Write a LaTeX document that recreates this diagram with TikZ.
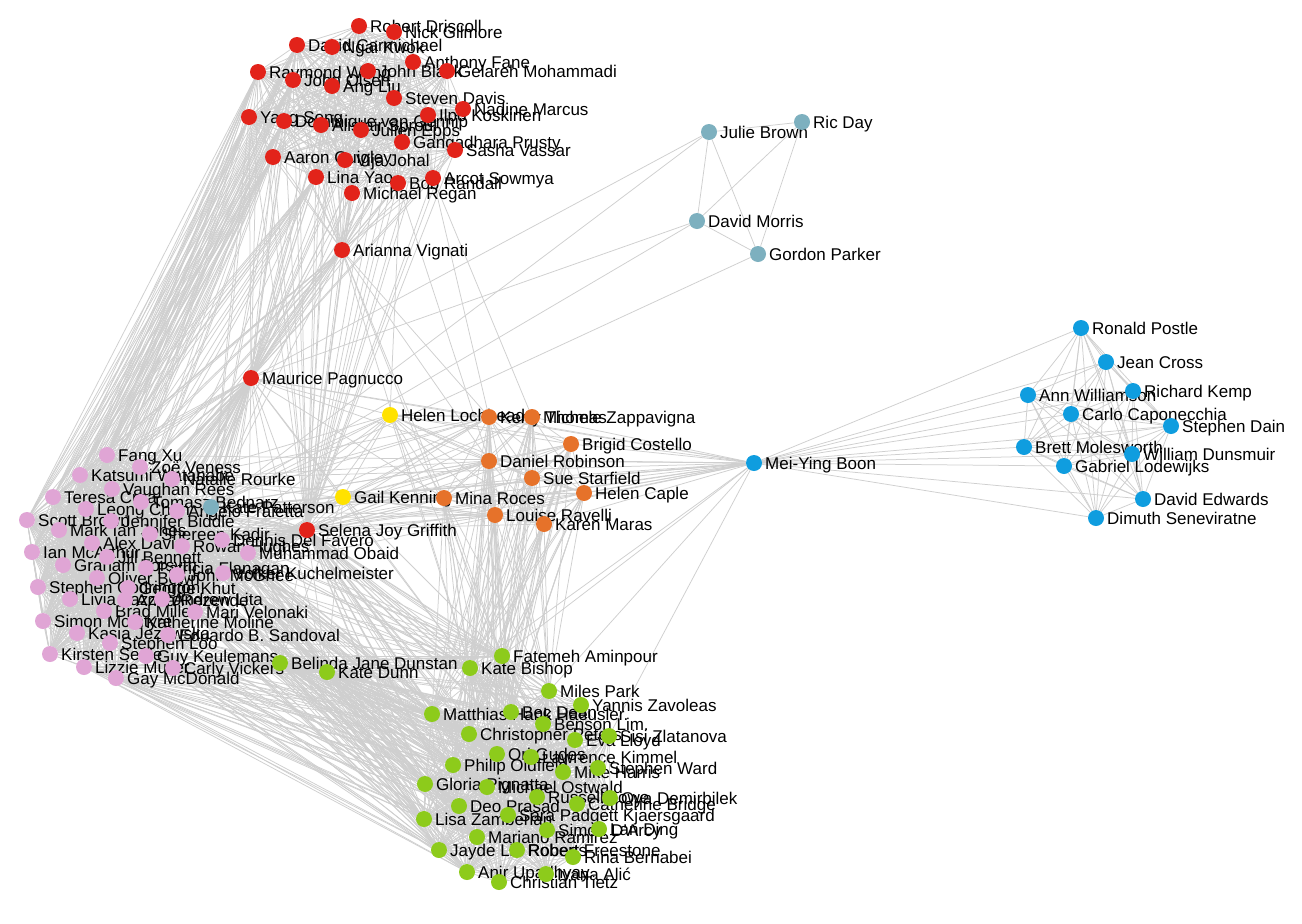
\documentclass[tikz,border=0pt]{standalone}
\usepackage{fontspec}
\setmainfont{Liberation Sans}
\pgfdeclarelayer{bgfill}
\pgfdeclarelayer{edges}
\pgfdeclarelayer{labels}
\pgfsetlayers{bgfill,edges,labels,main}
\definecolor{cred}{HTML}{E2231A}
\definecolor{cpink}{HTML}{E0A5D5}
\definecolor{cgreen}{HTML}{8DCB1B}
\definecolor{corange}{HTML}{E6722A}
\definecolor{cblue}{HTML}{0F9DDF}
\definecolor{cteal}{HTML}{7DB0BF}
\definecolor{cyellow}{HTML}{FFE200}
\definecolor{cedge}{HTML}{CFCFCF}
\tikzset{
 dot/.style={circle,inner sep=0pt,minimum size=16pt,draw=none},
 lbl/.style={anchor=base west,inner sep=0pt,font=\fontsize{17}{17}\selectfont,text=black},
 edge/.style={draw=cedge,line width=0.75pt}
}
\newcommand\pn[5]{%
 \node[dot,fill=#4] (#1) at (#2,#3) {};
 \begin{pgfonlayer}{labels}\node[lbl] (#1l) at (#2+11,#3+6) {#5};\end{pgfonlayer}}
\begin{document}
\begin{tikzpicture}[x=1pt,y=-1pt]
\begin{pgfonlayer}{bgfill}
\fill[white] (0,0) rectangle (1302,924);
\end{pgfonlayer}
\useasboundingbox (0,0) rectangle (1302,924);
% red
\pn{r1}{359}{26}{cred}{Robert Driscoll}
\pn{r2}{394}{32}{cred}{Nick Gilmore}
\pn{r3}{297}{45}{cred}{David Carmichael}
\pn{r4}{332}{47}{cred}{Ngai Kwok}
\pn{r5}{413}{62}{cred}{Anthony Fane}
\pn{r6}{258}{72}{cred}{Raymond Wong}
\pn{r7}{368}{71}{cred}{John Black}
\pn{r8}{447}{71}{cred}{Gelareh Mohammadi}
\pn{r9}{293}{80}{cred}{John Olsen}
\pn{r10}{332}{86}{cred}{Ang Liu}
\pn{r11}{394}{98}{cred}{Steven Davis}
\pn{r12}{463}{109}{cred}{Nadine Marcus}
\pn{r13}{428}{115}{cred}{Ilpo Koskinen}
\pn{r14}{249}{117}{cred}{Yang Song}
\pn{r15}{284}{121}{cred}{Dominique van Gennip}
\pn{r16}{321}{125}{cred}{Alistair Sproul}
\pn{r17}{361}{130}{cred}{Julien Epps}
\pn{r18}{402}{142}{cred}{Gangadhara Prusty}
\pn{r19}{455}{150}{cred}{Sasha Vassar}
\pn{r20}{273}{157}{cred}{Aaron Quigley}
\pn{r21}{345}{160}{cred}{Vija Johal}
\pn{r22}{316}{177}{cred}{Lina Yao}
\pn{r23}{398}{183}{cred}{Bob Randall}
\pn{r24}{433}{178}{cred}{Arcot Sowmya}
\pn{r25}{352}{193}{cred}{Michael Regan}
\pn{r26}{342}{250}{cred}{Arianna Vignati}
\pn{mp}{251}{378}{cred}{Maurice Pagnucco}
\pn{sg}{307}{530}{cred}{Selena Joy Griffith}
% teal
\pn{t1}{709}{132}{cteal}{Julie Brown}
\pn{t2}{802}{122}{cteal}{Ric Day}
\pn{t3}{697}{221}{cteal}{David Morris}
\pn{t4}{758}{254}{cteal}{Gordon Parker}
% yellow / orange
\pn{hl}{390}{415}{cyellow}{Helen Lochhead}
\pn{gk}{343}{497}{cyellow}{Gail Kenning}
\pn{o1}{489}{417}{corange}{Kerry Thomas}
\pn{o2}{532}{417}{corange}{Michele Zappavigna}
\pn{o3}{571}{444}{corange}{Brigid Costello}
\pn{o4}{489}{461}{corange}{Daniel Robinson}
\pn{o5}{532}{478}{corange}{Sue Starfield}
\pn{o6}{584}{493}{corange}{Helen Caple}
\pn{o7}{444}{498}{corange}{Mina Roces}
\pn{o8}{495}{515}{corange}{Louise Ravelli}
\pn{o9}{544}{524}{corange}{Karen Maras}
% blue
\pn{mb}{754}{463}{cblue}{Mei-Ying Boon}
\pn{b1}{1081}{328}{cblue}{Ronald Postle}
\pn{b2}{1106}{362}{cblue}{Jean Cross}
\pn{b3}{1133}{391}{cblue}{Richard Kemp}
\pn{b4}{1028}{395}{cblue}{Ann Williamson}
\pn{b5}{1071}{414}{cblue}{Carlo Caponecchia}
\pn{b6}{1171}{426}{cblue}{Stephen Dain}
\pn{b7}{1024}{447}{cblue}{Brett Molesworth}
\pn{b8}{1132}{454}{cblue}{William Dunsmuir}
\pn{b9}{1064}{466}{cblue}{Gabriel Lodewijks}
\pn{b10}{1143}{499}{cblue}{David Edwards}
\pn{b11}{1096}{518}{cblue}{Dimuth Seneviratne}
% pink
\pn{p1}{107}{455}{cpink}{Fang Xu}
\pn{p2}{140}{467}{cpink}{Zoë Veness}
\pn{p3}{80}{475}{cpink}{Katsumi Watanabe}
\pn{p4}{172}{479}{cpink}{Natalie Rourke}
\pn{p5}{112}{489}{cpink}{Vaughan Rees}
\pn{p6}{53}{497}{cpink}{Teresa Crea}
\pn{p7}{141}{502}{cpink}{Tomasz Bednarz}
\pn{p8}{86}{509}{cpink}{Leong Chan}
\pn{p9}{177}{511}{cpink}{Angelo Fraietta}
\pn{kp}{211}{507}{cteal}{Kate Patterson}
\pn{p10}{27}{520}{cpink}{Scott Brown}
\pn{p11}{111}{521}{cpink}{Jennifer Biddle}
\pn{p12}{59}{530}{cpink}{Mark Ian Jones}
\pn{p13}{150}{534}{cpink}{Shereen Kadir}
\pn{p14}{222}{540}{cpink}{Dennis Del Favero}
\pn{p15}{92}{543}{cpink}{Alex Davis}
\pn{p16}{182}{546}{cpink}{Rowan Hughes}
\pn{p17}{248}{553}{cpink}{Muhammad Obaid}
\pn{p18}{32}{552}{cpink}{Ian McArthur}
\pn{p19}{107}{557}{cpink}{Jill Bennett}
\pn{p20}{63}{565}{cpink}{Graham Forsyth}
\pn{p21}{146}{568}{cpink}{Patricia Flanagan}
\pn{p22}{223}{573}{cpink}{Volker Kuchelmeister}
\pn{p23}{97}{578}{cpink}{Oliver Bown}
\pn{p24}{177}{575}{cpink}{John McGhee}
\pn{p25}{38}{587}{cpink}{Stephen Codrington}
\pn{p26}{128}{588}{cpink}{George Khut}
\pn{p27}{70}{599}{cpink}{Livia Lazzaro}
\pn{p28}{125}{600}{cpink}{Anna Rezende}
\pn{p29}{162}{599}{cpink}{Andrew Lita}
\pn{p30}{104}{611}{cpink}{Brad Miller}
\pn{p31}{195}{612}{cpink}{Mari Velonaki}
\pn{p32}{43}{621}{cpink}{Simon McIntyre}
\pn{p33}{135}{622}{cpink}{Katherine Moline}
\pn{p34}{77}{633}{cpink}{Kasia Jezowska}
\pn{p35}{168}{635}{cpink}{Eduardo B. Sandoval}
\pn{p36}{110}{643}{cpink}{Stephen Loo}
\pn{p37}{50}{654}{cpink}{Kirsten Seale}
\pn{p38}{146}{656}{cpink}{Guy Keulemans}
\pn{p39}{84}{667}{cpink}{Lizzie Muller}
\pn{p40}{173}{668}{cpink}{Carly Vickers}
\pn{p41}{116}{678}{cpink}{Gay McDonald}
% green
\pn{g1}{280}{663}{cgreen}{Belinda Jane Dunstan}
\pn{g2}{327}{672}{cgreen}{Kate Dunn}
\pn{g3}{502}{656}{cgreen}{Fatemeh Aminpour}
\pn{g4}{470}{668}{cgreen}{Kate Bishop}
\pn{g5}{549}{691}{cgreen}{Miles Park}
\pn{g6}{581}{705}{cgreen}{Yannis Zavoleas}
\pn{g7}{432}{714}{cgreen}{Matthias Hank Haeusler.}
\pn{g8}{511}{712}{cgreen}{Bec Dean}
\pn{g9}{543}{724}{cgreen}{Benson Lim.}
\pn{g10}{469}{734}{cgreen}{Christopher Peters}
\pn{g11}{575}{740}{cgreen}{Eva Lloyd}
\pn{g12}{609}{736}{cgreen}{Sisi Zlatanova}
\pn{g13}{497}{754}{cgreen}{Ori Gudes}
\pn{g14}{531}{757}{cgreen}{Lawrence Kimmel}
\pn{g15}{453}{765}{cgreen}{Philip Oldfield}
\pn{g16}{563}{772}{cgreen}{Mike Harris}
\pn{g17}{598}{768}{cgreen}{Stephen Ward}
\pn{g18}{425}{784}{cgreen}{Gloria Pignatta}
\pn{g19}{487}{787}{cgreen}{Michael Ostwald}
\pn{g20}{537}{797}{cgreen}{Russell Lowe}
\pn{g21}{577}{804}{cgreen}{Catherine Bridge}
\pn{g22}{610}{798}{cgreen}{Oya Demirbilek}
\pn{g23}{459}{806}{cgreen}{Deo Prasad}
\pn{g24}{508}{815}{cgreen}{Sara Padgett Kjaersgaard}
\pn{g25}{424}{819}{cgreen}{Lisa Zamberlan}
\pn{g26}{547}{830}{cgreen}{Simon D'Arcy}
\pn{g27}{599}{829}{cgreen}{Lan Ding}
\pn{g28}{477}{837}{cgreen}{Mariano Ramirez}
\pn{g29}{439}{850}{cgreen}{Jayde Lin Roberts}
\pn{g30}{517}{850}{cgreen}{Robert Freestone}
\pn{g31}{573}{857}{cgreen}{Rina Bernabei}
\pn{g32}{467}{872}{cgreen}{Anir Upadhyay}
\pn{g33}{499}{882}{cgreen}{Christian Tietz}
\pn{g34}{546}{874}{cgreen}{Ivana Alić}
\begin{pgfonlayer}{edges}
% complete groups
\foreach \i in {1,...,26}{\foreach \j in {\i,...,26}{\ifnum\j>\i\relax\draw[edge] (r\i)--(r\j);\fi}}
\foreach \i in {1,...,41}{\foreach \j in {\i,...,41}{\ifnum\j>\i\relax\draw[edge] (p\i)--(p\j);\fi}}
\foreach \i in {1,...,34}{\foreach \j in {\i,...,34}{\ifnum\j>\i\relax\draw[edge] (g\i)--(g\j);\fi}}
\foreach \i in {1,...,11}{\foreach \j in {\i,...,11}{\ifnum\j>\i\relax\draw[edge] (b\i)--(b\j);\fi}}
\foreach \i in {1,...,9}{\foreach \j in {\i,...,9}{\ifnum\j>\i\relax\draw[edge] (o\i)--(o\j);\fi}}
\foreach \a/\b in {t1/t2,t1/t3,t1/t4,t2/t3,t2/t4,t3/t4,t1/mp,t1/kp,t3/kp,t4/kp,t3/mp}{\draw[edge] (\a)--(\b);}
% hubs
\foreach \i in {1,...,26}{\draw[edge] (mp)--(r\i); \draw[edge] (sg)--(r\i);}
\foreach \i in {1,...,41}{\draw[edge] (mp)--(p\i); \draw[edge] (kp)--(p\i); \draw[edge] (sg)--(p\i);}
\foreach \i in {1,...,34}{\draw[edge] (sg)--(g\i);}
\foreach \i in {1,...,9}{\draw[edge] (sg)--(o\i); \draw[edge] (mb)--(o\i); \draw[edge] (hl)--(o\i); \draw[edge] (gk)--(o\i);}
\foreach \i in {1,...,11}{\draw[edge] (mb)--(b\i);}
\foreach \a in {r3,r6,r9,r14,r15,r20,r22,r26}{\foreach \b in {p1,p3,p6,p10,p12,p18,p20,p25,p27,p32,p37,p39}{\draw[edge] (\a)--(\b);}}
\foreach \a in {r6,r14,r15,r20,r22,r26,r16,r25}{\draw[edge] (\a)--(kp);}
\foreach \a/\b in {mp/kp,mp/sg,mp/hl,mp/gk,mp/mb,mp/o1,mp/o4,mp/o7,mp/g1,mp/g2,mp/g4,kp/sg,kp/g1,kp/g2,kp/g3,kp/g4,kp/o7,kp/gk,kp/hl,kp/mb,sg/gk,sg/hl,sg/mb,hl/gk,hl/mb,gk/mb,r26/o1,r26/o4,r26/o7,r26/g3,r26/g4,r24/o1,r24/o2,r23/o4,r18/hl,hl/p4,hl/p9,hl/p14,hl/p17,hl/g4,hl/g3,gk/p9,gk/p14,gk/p16,gk/p17,gk/p22,gk/g1,gk/g2,gk/g3,gk/g4,mb/g3,mb/g4,mb/g5,mb/g12,mb/p17,mb/p22,mb/p14,mb/p9,mb/p4,mb/p1}{\draw[edge] (\a)--(\b);}
\foreach \a in {o1,o4,o7,o8}{\foreach \b in {p9,p14,p17,p4,p11}{\draw[edge] (\a)--(\b);}}
\foreach \a in {o1,o2,o3,o4,o5,o6,o7,o8,o9}{\foreach \b in {g3,g4,g5,g7,g8,g10,g13,g15,g19}{\draw[edge] (\a)--(\b);}}
\foreach \a in {g1,g2,g3,g4,g7,g10,g13,g15,g18,g19,g23,g25,g28,g29,g32}{\foreach \b in {p9,p13,p14,p17,p21,p22,p31,p35,p38,p39,p40,p41}{\draw[edge] (\a)--(\b);}}
\end{pgfonlayer}
\end{tikzpicture}
\end{document}
